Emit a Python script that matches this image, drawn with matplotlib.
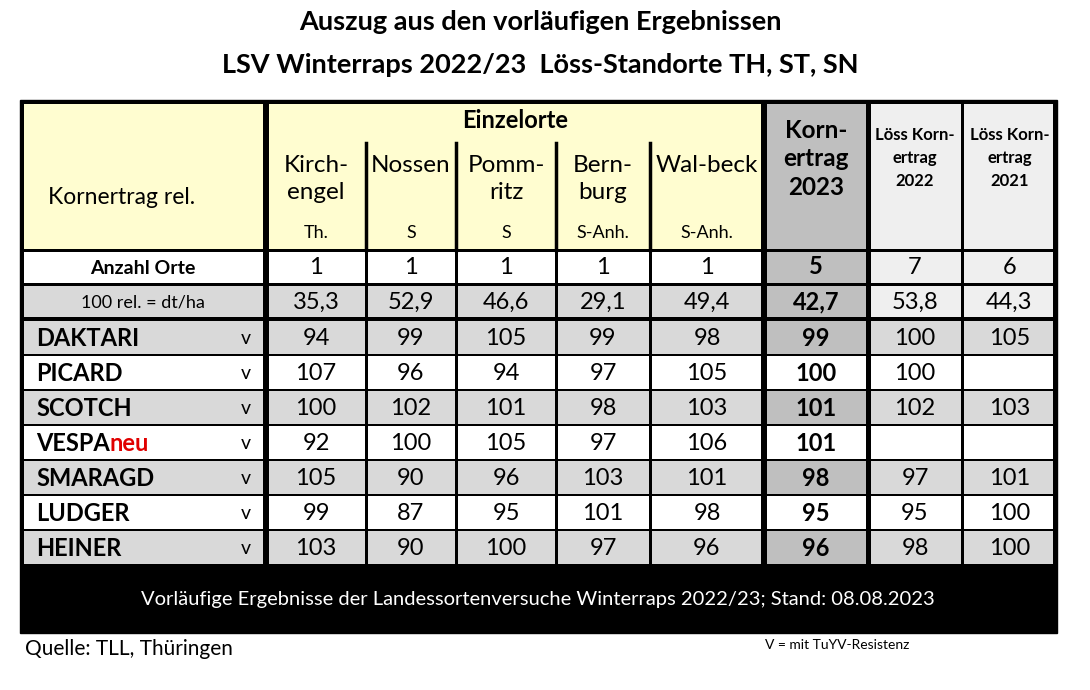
import matplotlib
matplotlib.use("Agg")
import matplotlib.pyplot as plt
from matplotlib.patches import Rectangle

title1 = "Auszug aus den vorläufigen Ergebnissen"
title2 = "LSV Winterraps 2022/23  Löss-Standorte TH, ST, SN"
orte = ["Kirch-\nengel", "Nossen\n", "Pomm-\nritz", "Bern-\nburg", "Wal-beck\n"]
laender = ["Th.", "S", "S", "S-Anh.", "S-Anh."]
anzahl = ["1", "1", "1", "1", "1", "5", "7", "6"]
rel100 = ["35,3", "52,9", "46,6", "29,1", "49,4", "42,7", "53,8", "44,3"]
sorten = ["DAKTARI", "PICARD", "SCOTCH", "VESPA", "SMARAGD", "LUDGER", "HEINER"]
werte = [
    [94, 99, 105, 99, 98, 99, 100, 105],
    [107, 96, 94, 97, 105, 100, 100, None],
    [100, 102, 101, 98, 103, 101, 102, 103],
    [92, 100, 105, 97, 106, 101, None, None],
    [105, 90, 96, 103, 101, 98, 97, 101],
    [99, 87, 95, 101, 98, 95, 95, 100],
    [103, 90, 100, 97, 96, 96, 98, 100],
]

FONT = "Lato"
fig = plt.figure(figsize=(10.9, 6.9), dpi=100)
ax = fig.add_axes([0, 0, 1, 1])
ax.set_xlim(0, 1090); ax.set_ylim(690, 0); ax.axis("off")

def T(x, y, s, size=15, bold=False, color="black", ha="center", va="center", ls=1.35):
    ax.text(x, y, s, fontsize=size, fontweight="bold" if bold else "normal",
            color=color, ha=ha, va=va, family=FONT, linespacing=ls)

T(540, 22, title1, 19.5, True)
T(540, 65, title2, 19.5, True)

xs = [20, 266, 366, 456, 556, 650, 764, 868, 962, 1057]
ytop, yh1, yh2, yd0 = 100, 250, 284, 320
rh = 35
ax.add_patch(Rectangle((xs[0], ytop), xs[-1] - xs[0], 633 - ytop, color="black", zorder=0))

def cell(c0, c1, y0, y1, col, gl=1.5, gr=1.5, gt=1, gb=1):
    ax.add_patch(Rectangle((xs[c0] + gl, y0 + gt), xs[c1] - xs[c0] - gl - gr, y1 - y0 - gt - gb,
                           color=col, lw=0, zorder=1))

thick = {0: 4, 1: 3, 6: 3, 7: 2.5, 9: 4}
def gL(c): return thick.get(c, 1.5)
def gR(c): return thick.get(c, 1.5)

YEL = "#fffdd0"; G1 = "#d9d9d9"; G2 = "#bfbfbf"; G3 = "#efefef"
cell(0, 1, ytop, yh1, YEL, gL(0), gR(1), 4, 1)
cell(1, 6, ytop, yh1, YEL, gL(1), gR(6), 4, 1)
cell(6, 7, ytop, yh1, G2, gL(6), gR(7), 4, 1)
cell(7, 8, ytop, yh1, G3, gL(7), 1.5, 4, 1)
cell(8, 9, ytop, yh1, G3, 1.5, gR(9), 4, 1)
for c in range(2, 6):
    ax.plot([xs[c], xs[c]], [143, yh1], color="black", lw=2.5, zorder=2)
T(xs[0] + 28, 198, "Kornertrag rel.", 16.5, ha="left")
T((xs[1] + xs[6]) / 2, 121, "Einzelorte", 17, True)
for i, (o, l) in enumerate(zip(orte, laender)):
    cx = (xs[i + 1] + xs[i + 2]) / 2
    T(cx, 179, o, 17.5, ls=1.4)
    T(cx, 233, l, 13)
T((xs[6] + xs[7]) / 2, 159, "Korn-\nertrag\n2023", 17.5, True, ls=1.3)
T((xs[7] + xs[8]) / 2, 158, "Löss Korn-\nertrag\n2022", 12, True, ls=1.55)
T((xs[8] + xs[9]) / 2, 158, "Löss Korn-\nertrag\n2021", 12, True, ls=1.55)

def rowcols(y0, y1, bgs, gt=1.5, gb=1.5):
    for c in range(9):
        cell(c, c + 1, y0, y1, bgs[c], thick.get(c, 1.5), thick.get(c + 1, 1.5), gt, gb)

rowcols(yh1, yh2, ["white"] * 6 + [G2, G3, G3])
T((xs[0] + xs[1]) / 2, (yh1 + yh2) / 2 + 1, "Anzahl Orte", 14, True)
for c, v in enumerate(anzahl):
    T((xs[c + 1] + xs[c + 2]) / 2, (yh1 + yh2) / 2, v, 17, c == 5)
rowcols(yh2, yd0 - 2, [G1] * 6 + [G2, G3, G3])
T((xs[0] + xs[1]) / 2, (yh2 + yd0) / 2, "100 rel. = dt/ha", 13)
for c, v in enumerate(rel100):
    T((xs[c + 1] + xs[c + 2]) / 2, (yh2 + yd0) / 2, v, 17, c == 5)

for r, (name, vals) in enumerate(zip(sorten, werte)):
    y0 = yd0 + r * rh
    grey = r % 2 == 0
    bg = G1 if grey else "white"
    rowcols(y0, y0 + rh, [bg] * 6 + [G2 if grey else "white", bg, bg], 1, 1)
    cy = y0 + rh / 2 + 1
    t = ax.text(xs[0] + 16, cy, name, fontsize=17, fontweight="bold", family=FONT,
                ha="left", va="center")
    if name == "VESPA":
        ax.annotate("neu", xycoords=t, xy=(1, 0.5), va="center", ha="left",
                    fontsize=17, fontweight="bold", family=FONT, color="#e00000")
    T(xs[1] - 20, cy, "v", 14)
    for c, v in enumerate(vals):
        if v is not None:
            T((xs[c + 1] + xs[c + 2]) / 2, cy, str(v), 17, c == 5)

T(538, 599, "Vorläufige Ergebnisse der Landessortenversuche Winterraps 2022/23; Stand: 08.08.2023",
  14.5, color="white")
T(25, 649, "Quelle: TLL, Thüringen", 15, ha="left")
T(765, 645, "V = mit TuYV-Resistenz", 10, ha="left")

fig.savefig("out.png", dpi=100)
